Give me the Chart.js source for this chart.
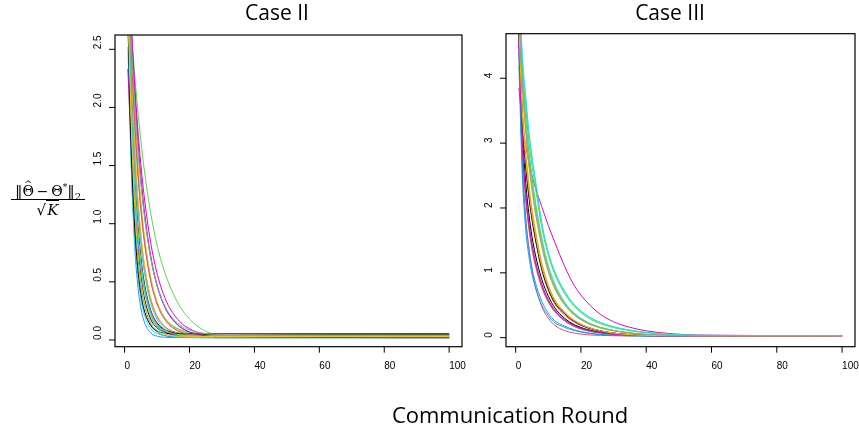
<!DOCTYPE html>
<html>
<head>
<meta charset="utf-8">
<script src="https://cdn.jsdelivr.net/npm/chart.js@4.4.1/dist/chart.umd.min.js"></script>
<style>
  body { margin: 0; background: #fff; }
  #page { position: relative; width: 859px; height: 431px; overflow: hidden; background: #fff; }
  canvas { position: absolute; left: 0; top: 0; }
  .title { position: absolute; font-family: 'Open Sans', sans-serif; color: #000; white-space: nowrap; transform: translateX(-50%); line-height: 1; }
  #ylab { position: absolute; left: 11px; top: 174px; width: 74px; text-align: center; font-family: 'DejaVu Serif', serif; font-size: 14px; color: #000; white-space: nowrap; }
  #ylab .num { border-bottom: 1px solid #000; line-height: 26px; height: 25px; }
  #ylab .num .hat { position: relative; display: inline-block; }
  #ylab .num .hat::after { content: '^'; position: absolute; left: 50%; top: -7px; transform: translateX(-50%); font-size: 10px; }
  #ylab .num .nb { font-size: 15px; }
  #ylab .num sup { font-size: 9px; vertical-align: 6px; }
  #ylab .num sub { font-size: 10px; vertical-align: -4px; }
  #ylab .den { line-height: 20px; font-size: 15px; }
  #ylab .den .k { font-style: italic; border-top: 1px solid #000; padding: 0 1px; }
</style>
</head>
<body>
<div id="page">
  <canvas id="leftChart" width="859" height="431"></canvas>
  <canvas id="rightChart" width="859" height="431"></canvas>
  <div class="title" style="left:277px; top:2px; font-size:21px;">Case II</div>
  <div class="title" style="left:670px; top:2px; font-size:21px;">Case III</div>
  <div class="title" style="left:510px; top:403px; font-size:22px;">Communication Round</div>
  <div id="ylab">
    <div class="num"><span class="nb">‖</span><span class="hat">Θ</span>&#8201;−&#8201;Θ<sup>*</sup><span class="nb">‖</span><sub>2</sub></div>
    <div class="den">√<span class="k">K</span></div>
  </div>
</div>
<script>
'use strict';

//////////////// tick labels ///////////////////
const xTicks = [0, 20, 40, 60, 80, 100];
const case2Ticks = [0, 0.5, 1, 1.5, 2, 2.5];
const case2TickLabels = ['0.0', '0.5', '1.0', '1.5', '2.0', '2.5'];
const case3Ticks = [0, 1, 2, 3, 4];
const case3TickLabels = ['0', '1', '2', '3', '4'];

// R default palette, cycled over the runs
const rPalette = ['#000000', '#DF536B', '#61D04F', '#2297E6', '#28E2E5', '#CD0BBC', '#F5C710', '#9E9E9E'];

//////////////// Case II runs ///////////////////
const case2Rounds = [1, 2, 3, 4, 5, 6, 8, 10, 12, 14, 17, 20, 24, 28, 100];

const case2Run01 = [3.05, 1.97, 1.28, .836, .553, .372, .182, .104, .072, .059, .052, .051, .05, .05, .05];
const case2Run02 = [3.24, 2.34, 1.70, 1.23, .90, .659, .361, .206, .126, .085, .057, .046, .042, .04, .04];
const case2Run03 = [3.145, 2.70, 2.32, 1.996, 1.717, 1.478, 1.097, .818, .613, .462, .29, .18, .09, .05, .045];
const case2Run04 = [2.82, 1.56, .867, .486, .276, .161, .063, .033, .024, .021, .02, .02, .02, .02, .02];
const case2Run05 = [2.52, 1.524, .926, .568, .353, .224, .10, .055, .039, .033, .031, .03, .03, .03, .03];
const case2Run06 = [3.32, 2.73, 2.24, 1.84, 1.51, 1.243, .843, .573, .392, .27, .158, .096, .054, .036, .02];
const case2Run07 = [3.33, 2.41, 1.74, 1.26, .917, .669, .361, .202, .119, .076, .047, .036, .032, .03, .03];
const case2Run08 = [3.44, 2.62, 2.00, 1.53, 1.174, .902, .538, .328, .206, .136, .082, .058, .046, .042, .04];
const case2Run09 = [3.15, 2.16, 1.48, 1.025, .713, .501, .258, .146, .095, .07, .057, .052, .05, .05, .05];
const case2Run10 = [2.93, 2.00, 1.37, .942, .65, .452, .225, .12, .072, .049, .036, .032, .03, .03, .03];
const case2Run11 = [3.25, 2.48, 1.90, 1.455, 1.117, .862, .519, .321, .206, .14, .09, .067, .056, .052, .05];
const case2Run12 = [2.82, 1.81, 1.167, .754, .49, .321, .143, .07, .041, .028, .022, .021, .02, .02, .02];
const case2Run13 = [3.02, 2.18, 1.575, 1.14, .826, .60, .321, .176, .101, .062, .036, .026, .022, .02, .02];
const case2Run14 = [2.33, 1.68, 1.22, .882, .641, .467, .252, .14, .082, .052, .032, .024, .021, .02, .02];
const case2Run15 = [3.53, 2.69, 2.05, 1.566, 1.198, .918, .543, .326, .201, .129, .073, .049, .036, .032, .03];
const case2Run16 = [3.04, 2.20, 1.595, 1.16, .846, .62, .341, .196, .121, .082, .056, .046, .042, .04, .04];
const case2Run17 = [2.75, 1.67, 1.022, .633, .40, .26, .126, .077, .06, .054, .051, .05, .05, .05, .05];
const case2Run18 = [3.33, 2.54, 1.936, 1.479, 1.131, .867, .513, .309, .191, .123, .071, .048, .036, .032, .03];
const case2Run19 = [3.04, 2.08, 1.427, .983, .681, .476, .242, .133, .083, .06, .046, .042, .04, .04, .04];
const case2Run20 = [3.32, 2.66, 2.13, 1.71, 1.372, 1.101, .712, .463, .303, .202, .113, .068, .039, .028, .02];
const case2Run21 = [2.92, 1.99, 1.36, .932, .64, .442, .215, .11, .062, .039, .026, .022, .02, .02, .02];
const case2Run22 = [3.42, 2.74, 2.20, 1.76, 1.413, 1.134, .733, .476, .312, .207, .116, .069, .04, .028, .02];
const case2Run23 = [2.93, 1.886, 1.218, .79, .517, .341, .158, .082, .051, .039, .032, .031, .03, .03, .03];
const case2Run24 = [3.24, 2.60, 2.09, 1.678, 1.351, 1.089, .711, .469, .315, .216, .13, .086, .059, .048, .04];

const case2Runs = [case2Run01, case2Run02, case2Run03, case2Run04, case2Run05, case2Run06, case2Run07, case2Run08,
  case2Run09, case2Run10, case2Run11, case2Run12, case2Run13, case2Run14, case2Run15, case2Run16,
  case2Run17, case2Run18, case2Run19, case2Run20, case2Run21, case2Run22, case2Run23, case2Run24];

//////////////// Case III runs ///////////////////
const case3Rounds = [1, 2, 3, 4, 5, 6, 8, 10, 12, 15, 18, 22, 26, 30, 35, 40, 48, 56, 100];

const case3Run01 = [4.8, 3.5, 2.8, 2.3, 1.9, 1.6, 1.1, .78, .56, .38, .26, .16, .105, .07, .047, .036, .03, .028, .028];
const case3Run02 = [4.5, 2.8, 1.9, 1.4, 1.05, .8, .48, .3, .19, .11, .07, .045, .035, .03, .027, .026, .025, .025, .025];
const case3Run03 = [5.2, 4.0, 3.3, 2.75, 2.35, 2.0, 1.45, 1.05, .78, .52, .36, .23, .155, .11, .072, .05, .035, .03, .028];
const case3Run04 = [4.2, 2.55, 1.72, 1.27, .98, .78, .5, .34, .23, .16, .11, .07, .048, .036, .03, .027, .026, .025, .025];
const case3Run05 = [5.6, 4.3, 3.7, 3.15, 2.75, 2.42, 1.75, 1.3, 1.0, .70, .50, .33, .23, .165, .115, .08, .05, .036, .03];
const case3Run06 = [3.85, 3.35, 2.98, 2.72, 2.5, 2.32, 2.02, 1.73, 1.47, 1.1, .8, .54, .36, .245, .16, .105, .06, .04, .03];
const case3Run07 = [4.9, 3.65, 2.95, 2.42, 2.0, 1.68, 1.16, .82, .59, .4, .27, .165, .108, .072, .048, .037, .03, .028, .028];
const case3Run08 = [4.6, 3.1, 2.3, 1.8, 1.45, 1.2, .83, .59, .43, .28, .19, .12, .08, .055, .04, .032, .028, .027, .027];
const case3Run09 = [4.7, 3.25, 2.45, 1.93, 1.56, 1.29, .9, .64, .46, .3, .2, .125, .083, .057, .041, .033, .029, .028, .028];
const case3Run10 = [4.75, 3.4, 2.7, 2.2, 1.82, 1.52, 1.04, .73, .52, .35, .24, .15, .1, .068, .046, .035, .03, .028, .028];
const case3Run11 = [5.4, 4.2, 3.6, 3.05, 2.65, 2.33, 1.7, 1.27, .98, .68, .48, .31, .215, .155, .108, .075, .048, .035, .03];
const case3Run12 = [4.5, 3.0, 2.22, 1.74, 1.4, 1.15, .79, .56, .4, .26, .17, .105, .07, .05, .037, .031, .028, .027, .027];
const case3Run13 = [5.3, 4.1, 3.45, 2.9, 2.48, 2.12, 1.54, 1.12, .83, .55, .38, .24, .16, .113, .074, .051, .036, .03, .028];
const case3Run14 = [4.6, 3.35, 2.68, 2.2, 1.83, 1.55, 1.08, .77, .56, .38, .26, .16, .105, .07, .047, .036, .03, .028, .028];
const case3Run15 = [5.1, 3.9, 3.2, 2.66, 2.27, 1.93, 1.4, 1.01, .75, .5, .345, .22, .148, .105, .07, .049, .035, .03, .028];
const case3Run16 = [4.85, 3.55, 2.85, 2.35, 1.95, 1.64, 1.13, .8, .57, .39, .265, .163, .107, .071, .047, .036, .03, .028, .028];
const case3Run17 = [4.7, 3.42, 2.72, 2.23, 1.85, 1.55, 1.06, .75, .54, .37, .25, .155, .102, .068, .046, .035, .03, .028, .028];
const case3Run18 = [4.4, 2.95, 2.18, 1.7, 1.36, 1.12, .77, .55, .4, .26, .175, .11, .074, .052, .039, .031, .028, .027, .027];
const case3Run19 = [5.3, 4.15, 3.45, 2.88, 2.45, 2.08, 1.5, 1.08, .8, .53, .37, .235, .158, .112, .073, .05, .035, .03, .028];
const case3Run20 = [4.4, 2.75, 1.88, 1.4, 1.08, .86, .56, .38, .26, .18, .12, .075, .05, .037, .03, .027, .026, .025, .025];
const case3Run21 = [5.7, 4.4, 3.78, 3.22, 2.8, 2.46, 1.78, 1.32, 1.02, .72, .51, .34, .235, .168, .117, .082, .051, .036, .03];
const case3Run22 = [4.55, 3.05, 2.27, 1.78, 1.43, 1.18, .82, .58, .42, .275, .185, .117, .078, .054, .04, .032, .028, .027, .027];
const case3Run23 = [4.8, 3.5, 2.8, 2.3, 1.9, 1.6, 1.1, .78, .56, .38, .26, .16, .105, .07, .047, .036, .03, .028, .028];
const case3Run24 = [5.15, 3.95, 3.25, 2.7, 2.3, 1.96, 1.42, 1.03, .76, .51, .35, .225, .15, .107, .071, .05, .035, .03, .028];

const case3Runs = [case3Run01, case3Run02, case3Run03, case3Run04, case3Run05, case3Run06, case3Run07, case3Run08,
  case3Run09, case3Run10, case3Run11, case3Run12, case3Run13, case3Run14, case3Run15, case3Run16,
  case3Run17, case3Run18, case3Run19, case3Run20, case3Run21, case3Run22, case3Run23, case3Run24];

//////////////// R style box, ticks and labels ///////////////////
const rAxes = {
  id: 'rAxes',
  afterDraw(chart, args, opts) {
    const ctx = chart.ctx;
    const a = chart.chartArea;
    const xs = chart.scales.x;
    const ys = chart.scales.y;
    ctx.save();
    ctx.strokeStyle = '#000';
    ctx.fillStyle = '#000';
    ctx.lineWidth = 1.2;
    ctx.strokeRect(a.left, a.top, a.right - a.left, a.bottom - a.top);

    ctx.font = '10px "Liberation Sans", Arial, sans-serif';
    ctx.textBaseline = 'middle';
    ctx.textAlign = 'left';
    ctx.lineWidth = 1;

    for (let i = 0; i < xTicks.length; i++) {
      let px = xs.getPixelForValue(xTicks[i]);
      ctx.beginPath();
      ctx.moveTo(px, a.bottom);
      ctx.lineTo(px, a.bottom + 6);
      ctx.stroke();
      ctx.fillText(String(xTicks[i]), px, a.bottom + 19.5);
    }

    for (let i = 0; i < opts.ticks.length; i++) {
      let py = ys.getPixelForValue(opts.ticks[i]);
      ctx.beginPath();
      ctx.moveTo(a.left - 6, py);
      ctx.lineTo(a.left, py);
      ctx.stroke();
      ctx.save();
      ctx.translate(opts.labelX, py);
      ctx.rotate(-Math.PI / 2);
      ctx.fillText(opts.labels[i], 0, 0);
      ctx.restore();
    }
    ctx.restore();
  }
};

function makePanel(canvasId, rounds, runs, yMin, yMax, ticks, labels, pad, labelX) {
  let datasets = [];
  for (let i = 0; i < runs.length; i++) {
    datasets.push({
      data: rounds.map((r, j) => ({ x: r, y: runs[i][j] })),
      borderColor: rPalette[i % rPalette.length],
      borderWidth: 1,
      pointRadius: 0,
      cubicInterpolationMode: 'monotone',
      capBezierPoints: false,
      clip: 0,
      fill: false
    });
  }
  // reverse so the last run sits on top, like R
  datasets.reverse();

  return new Chart(document.getElementById(canvasId), {
    type: 'line',
    data: { datasets: datasets },
    options: {
      responsive: false,
      animation: false,
      events: [],
      layout: { padding: pad },
      plugins: {
        legend: { display: false },
        tooltip: { enabled: false },
        rAxes: { ticks: ticks, labels: labels, labelX: labelX }
      },
      scales: {
        x: { type: 'linear', min: -2.96, max: 103.96, display: false },
        y: { type: 'linear', min: yMin, max: yMax, display: false }
      }
    },
    plugins: [rAxes]
  });
}

makePanel('leftChart', case2Rounds, case2Runs, -0.058, 2.623, case2Ticks, case2TickLabels,
  { left: 115, top: 35, right: 397, bottom: 84.3 }, 98);
makePanel('rightChart', case3Rounds, case3Runs, -0.139, 4.687, case3Ticks, case3TickLabels,
  { left: 506, top: 33.7, right: 4, bottom: 84.3 }, 489);
</script>
</body>
</html>
